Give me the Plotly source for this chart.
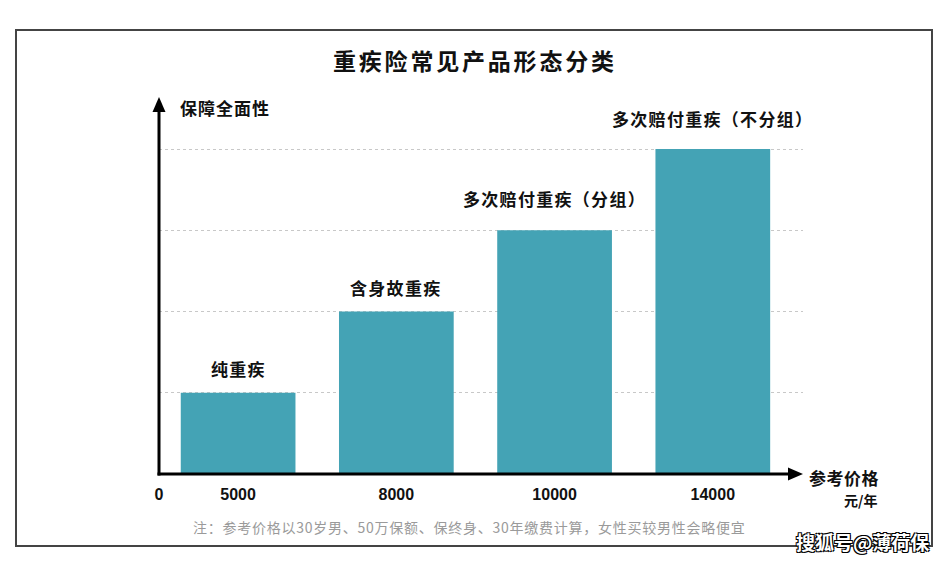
import plotly.graph_objects as go

# ---- data ----
categories = ["纯重疾", "含身故重疾", "多次赔付重疾（分组）", "多次赔付重疾（不分组）"]
coverage_level = [1, 2, 3, 4]
price_labels = ["5000", "8000", "10000", "14000"]
label_shift = [10, 10, 17, 16]

title_text = "重疾险常见产品形态分类"
y_title = "保障全面性"
x_title = "参考价格"
x_unit = "元/年"
note_text = "注：参考价格以30岁男、50万保额、保终身、30年缴费计算，女性买较男性会略便宜"
watermark = "搜狐号@薄荷保"

BAR = "#44A3B5"
FONT = "Noto Sans CJK SC"

# plot area in pixels
L, R, T, B = 159, 803, 97, 474
W, H = 951, 561


def PX(px):
    return (px - L) / (R - L)


def PY(py):
    return (B - py) / (B - T)


def spaced(txt, px):
    return f'<span style="letter-spacing:{px}px">{txt}</span>'


xpos = [i + 1 for i in range(len(categories))]

fig = go.Figure()
fig.add_trace(go.Bar(
    x=xpos, y=coverage_level, width=0.725,
    marker=dict(color=BAR, line=dict(width=0)),
    hoverinfo="skip",
))

# bar labels
for x, y, c, s in zip(xpos, coverage_level, categories, label_shift):
    fig.add_annotation(x=x, y=y, text=spaced(c, 1.3), showarrow=False, yanchor="bottom",
                       yshift=s, font=dict(family=FONT, size=17, color="#111", weight="bold"))

shapes = []
# frame
shapes.append(dict(type="rect", xref="paper", yref="paper",
                   x0=PX(16), x1=PX(932), y0=PY(546), y1=PY(30),
                   line=dict(color="#444", width=2), layer="below"))
# y axis
shapes.append(dict(type="line", xref="paper", yref="paper",
                   x0=PX(159), x1=PX(159), y0=PY(475.5), y1=PY(110),
                   line=dict(color="#000", width=3)))
shapes.append(dict(type="path", xref="paper", yref="paper",
                   path=f"M {PX(152.5)},{PY(112)} L {PX(165.5)},{PY(112)} L {PX(159)},{PY(97)} Z",
                   fillcolor="#000", line=dict(width=0)))
# x axis
shapes.append(dict(type="line", xref="paper", yref="paper",
                   x0=PX(157.5), x1=PX(790), y0=PY(474), y1=PY(474),
                   line=dict(color="#000", width=3)))
shapes.append(dict(type="path", xref="paper", yref="paper",
                   path=f"M {PX(788)},{PY(467.5)} L {PX(788)},{PY(480.5)} L {PX(803)},{PY(474)} Z",
                   fillcolor="#000", line=dict(width=0)))

annos = [
    dict(text=spaced(title_text, 2.8), x=PX(475), y=PY(60), font=dict(size=23, weight="bold", color="#111")),
    dict(text=spaced(y_title, 1), x=PX(225), y=PY(107), font=dict(size=17, weight="bold", color="#111")),
    dict(text=spaced(x_title, 0.5), x=PX(844), y=PY(477), font=dict(size=17, weight="bold", color="#111")),
    dict(text=x_unit, x=PX(861), y=PY(500), font=dict(size=14, weight="bold", color="#111")),
    dict(text=spaced(note_text, 0.75), x=PX(469), y=PY(527), font=dict(size=14, color="#9a9a9a")),
    dict(text=watermark, x=PX(862), y=PY(541),
         font=dict(size=19, weight="bold", color="#fff",
                   shadow="1px 1px 0 #000, -1px -1px 0 #000, 1px -1px 0 #000, -1px 1px 0 #000")),
]
for a in annos:
    a["font"].setdefault("family", FONT)
    fig.add_annotation(xref="paper", yref="paper", showarrow=False,
                       xanchor="center", yanchor="middle", **a)

fig.update_layout(
    width=W, height=H,
    margin=dict(l=L, r=W - R, t=T, b=H - B, pad=0),
    paper_bgcolor="#fff", plot_bgcolor="#fff",
    showlegend=False, shapes=shapes,
    font=dict(family=FONT),
    xaxis=dict(range=[0.5, 4.57], showline=False, zeroline=False, showgrid=False,
               tickvals=[0.5] + xpos, ticktext=["0"] + price_labels,
               ticks="", ticklabelstandoff=9,
               tickfont=dict(family="Liberation Sans", size=16, weight="bold", color="#111"),
               fixedrange=True),
    yaxis=dict(range=[0, 4.64], showline=False, zeroline=False, showticklabels=False,
               tickvals=coverage_level, showgrid=True, gridcolor="#c8c8c8",
               griddash="dot", gridwidth=1, ticks="", fixedrange=True),
)

fig.write_html("out.html")
